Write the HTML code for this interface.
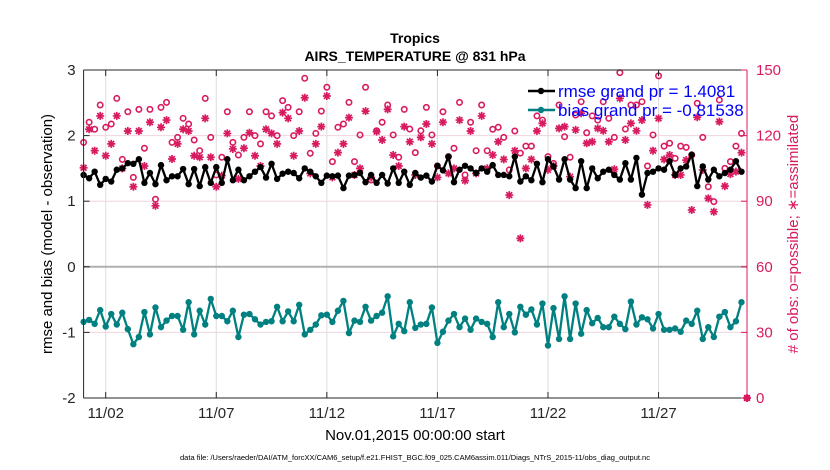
<!DOCTYPE html>
<html><head><meta charset="utf-8">
<style>
body{margin:0;background:#fff;}
svg{display:block;font-family:"Liberation Sans",sans-serif;}
</style></head>
<body>
<svg id="chart" width="830" height="470" viewBox="0 0 830 470" xmlns="http://www.w3.org/2000/svg">
<rect width="830" height="470" fill="#fff"/>
<g id="grid"></g>
<g id="series"></g>
<g id="axes"></g>
<text x="415" y="43" text-anchor="middle" font-size="14" font-weight="bold">Tropics</text>
<text x="415" y="61" text-anchor="middle" font-size="14" font-weight="bold">AIRS_TEMPERATURE @ 831 hPa</text>
<text transform="translate(52,234) rotate(-90)" text-anchor="middle" font-size="15">rmse and bias (model - observation)</text>
<text transform="translate(798,234) rotate(-90)" text-anchor="middle" font-size="15" fill="#d81b60">#  of obs: o=possible; ∗=assimilated</text>
<text x="415" y="440" text-anchor="middle" font-size="15">Nov.01,2015 00:00:00 start</text>
<text x="415" y="460" text-anchor="middle" font-size="7.5">data file: /Users/raeder/DAI/ATM_forcXX/CAM6_setup/f.e21.FHIST_BGC.f09_025.CAM6assim.011/Diags_NTrS_2015-11/obs_diag_output.nc</text>
<g>
  <line x1="528" y1="91" x2="555" y2="91" stroke="#000" stroke-width="2.5"/>
  <circle cx="541" cy="91" r="3.2" fill="#000"/>
  <text x="558" y="97" font-size="17" fill="#0000ff">rmse grand pr = 1.4081</text>
  <line x1="528" y1="110" x2="555" y2="110" stroke="#008080" stroke-width="2.5"/>
  <circle cx="541" cy="110" r="3.2" fill="#008080"/>
  <text x="558" y="116" font-size="17" fill="#0000ff">bias grand pr = -0.81538</text>
</g>
</svg>
<script>
const rmse = [1.40,1.35,1.45,1.25,1.34,1.30,1.48,1.50,1.58,1.57,1.64,1.28,1.43,1.26,1.55,1.32,1.38,1.38,1.49,1.26,1.49,1.23,1.52,1.28,1.52,1.28,1.64,1.32,1.48,1.32,1.38,1.45,1.52,1.36,1.57,1.34,1.42,1.45,1.43,1.35,1.50,1.45,1.38,
1.28,1.39,1.38,1.39,1.20,1.39,1.40,1.43,1.29,1.40,1.28,1.40,1.27,1.50,1.28,1.45,1.25,1.43,1.36,1.39,1.30,1.54,1.47,1.68,1.29,1.48,1.54,1.50,1.43,1.50,1.45,1.55,1.40,1.40,1.38,1.68,1.30,1.38,1.32,1.57,1.29,
1.64,1.53,1.33,1.64,1.33,1.20,1.61,1.20,1.50,1.35,1.45,1.48,1.40,1.33,1.58,1.33,1.66,1.10,1.43,1.45,1.50,1.48,1.61,1.40,1.50,1.53,1.71,1.23,1.53,1.33,1.48,1.38,1.43,1.48,1.61,1.45];
const bias = [-0.84,-0.81,-0.87,-0.66,-0.91,-0.72,-0.88,-0.70,-0.95,-1.18,-1.07,-0.69,-1.03,-0.62,-0.92,-0.82,-0.75,-0.75,-0.96,-0.54,-1.03,-0.67,-0.88,-0.49,-0.75,-0.75,-0.83,-0.67,-1.07,-0.73,-0.72,-0.80,-0.88,-0.84,-0.83,-0.61,-0.83,-0.68,-0.83,-0.58,-1.03,-0.96,-0.88,-0.74,-0.73,-0.84,-0.67,-0.52,-1.01,-0.82,-0.84,-0.61,-0.82,-0.75,-0.70,-0.45,-1.06,-0.87,-0.98,-0.54,
-0.93,-0.88,-0.87,-0.62,-1.16,-0.99,-0.82,-0.72,-0.92,-0.79,-0.96,-0.79,-0.84,-0.87,-1.07,-0.54,-0.92,-0.72,-1.00,-0.61,-0.73,-0.65,-0.88,-0.56,-1.20,-0.63,-1.10,-0.45,-1.10,-0.56,-1.02,-0.66,-0.86,-0.78,-0.92,-0.92,-0.76,-0.87,-0.95,-0.53,-0.88,-0.77,-0.80,-0.94,-0.72,-0.96,-0.96,-0.94,-0.99,-0.82,-0.87,-0.67,-1.10,-0.92,-1.07,-0.76,-0.69,-0.92,-0.83,-0.54];
const nPossible = [116.9,126.1,122.9,134.0,123.8,125.3,137.0,109.1,130.9,100.9,132.0,114.2,132.0,90.9,132.9,135.2,116.9,119.2,127.9,125.3,118.0,113.1,137.0,119.2,102.0,110.1,130.9,116.9,111.1,119.2,130.9,120.0,116.2,130.9,129.0,120.0,136.0,132.9,120.0,130.9,146.2,111.9,121.0,
131.2,142.1,108.1,123.8,125.3,135.2,108.1,120.3,142.1,99.7,122.2,126.1,134.0,120.3,110.1,132.0,123.0,112.2,122.2,132.9,120.3,106.1,130.9,110.4,114.2,135.2,102.0,126.1,113.1,134.0,113.1,122.9,123.8,119.2,104.3,122.1,112.0,115.2,115.2,129.0,127.1,
110.4,107.3,134.0,119.5,110.1,129.4,135.5,121.3,129.0,127.1,135.5,127.9,119.2,148.8,123.0,134.0,134.0,135.5,106.1,120.3,147.3,115.2,116.5,109.6,115.2,114.6,111.1,134.8,119.2,96.6,89.8,136.3,105.0,108.1,115.2,121.0,0];
const nAssim = [105.3,122.9,113.1,129.0,110.8,116.2,129.0,105.0,122.1,96.6,122.1,106.1,126.1,87.9,123.8,127.1,109.3,116.2,122.9,122.1,110.8,110.1,127.9,110.1,96.6,101.7,121.0,113.9,100.2,114.2,121.3,110.8,106.1,122.9,121.0,116.2,130.5,127.9,110.8,122.1,137.3,102.7,116.2,
124.1,138.1,100.9,112.2,116.2,128.2,102.0,105.0,131.2,100.9,121.8,118.0,132.0,111.1,106.1,124.1,117.2,102.0,119.2,125.3,116.2,100.9,126.1,102.7,105.0,127.1,99.4,122.1,102.7,129.0,105.0,111.1,117.2,109.1,92.8,113.1,73.0,105.0,109.1,122.1,125.6,
104.3,106.1,123.3,124.1,101.2,122.6,130.2,116.5,117.2,123.3,122.2,117.2,104.6,137.0,118.0,125.6,122.2,127.1,88.3,113.1,127.9,109.1,111.1,102.0,102.0,108.8,86.0,128.4,104.3,91.3,85.2,126.4,96.9,102.4,103.5,112.2,0];
const xTickDays = [1,6,11,16,21,26];
const xTickLabels = ["11/02","11/07","11/12","11/17","11/22","11/27"];
const yLeftTicks = [-2,-1,0,1,2,3];
const yRightTicks = [0,30,60,90,120,150];

const NS = "http://www.w3.org/2000/svg";
const L = 83.6, R = 747, T = 70, B = 398;
const xDay = d => L + d * (R - L) / 30;
const yL = v => B - (v + 2) * (B - T) / 5;
const yR = v => B - v * (B - T) / 150;
const RED = "#d81b60", TEAL = "#008080";
function mk(tag, attrs, parent){ const e=document.createElementNS(NS,tag); for(const k in attrs) e.setAttribute(k,attrs[k]); parent.appendChild(e); return e; }
const grid = document.getElementById('grid'), ser = document.getElementById('series'), ax = document.getElementById('axes');

// grid
xTickDays.forEach(d=>{ const l=mk('line',{x1:xDay(d),x2:xDay(d),y1:T,y2:B,stroke:'#dcdcdc','stroke-width':1},grid);
  
   });
yLeftTicks.forEach(v=>{ if(v===0) return; const l=mk('line',{x1:L,x2:R,y1:yL(v),y2:yL(v),stroke:'#f0d4df','stroke-width':1},grid);
  
   });
const zl = mk('line',{x1:L,x2:R,y1:yL(0),y2:yL(0),stroke:'#b0b0b0','stroke-width':2},grid);



const tx = i => xDay(i*0.25);
// obs possible circles
nPossible.forEach((v,i)=>{ if(v===null) return; const c=mk('circle',{cx:tx(i),cy:yR(v),r:2.7,fill:'none',stroke:RED,'stroke-width':1.6},ser);
  
   });
// assimilated stars
nAssim.forEach((v,i)=>{ const x=tx(i), y=yR(v), s=4, d=2.9;
  const g=mk('path',{d:`M${x-s},${y}H${x+s}M${x},${y-s}V${y+s}M${x-d},${y-d}L${x+d},${y+d}M${x-d},${y+d}L${x+d},${y-d}`,stroke:RED,'stroke-width':1.7,fill:'none'},ser);
  
   });
// rmse line
function series(arr,color,name){
  const p=mk('polyline',{points:arr.map((v,i)=>tx(i)+','+yL(v)).join(' '),fill:'none',stroke:color,'stroke-width':2.3,'stroke-linejoin':'round'},ser);
  
  
  arr.forEach((v,i)=>{ const c=mk('circle',{cx:tx(i),cy:yL(v),r:3.2,fill:color},ser);
    
     });
}
series(rmse,'#000','rmse');
series(bias,TEAL,'bias');

// axes
const fr=mk('path',{d:`M${L},${T}H${R}M${L},${B}H${R}`,stroke:'#262626','stroke-width':1,fill:'none'},ax);


const la=mk('line',{x1:L,x2:L,y1:T,y2:B,stroke:'#262626','stroke-width':1},ax);


const ra=mk('line',{x1:R,x2:R,y1:T,y2:B,stroke:RED,'stroke-width':1},ax);


yLeftTicks.forEach(v=>{ const y=yL(v);
  mk('line',{x1:L,x2:L+6,y1:y,y2:y,stroke:'#262626'},ax);
  const t=mk('text',{x:L-8,y:y+5,'text-anchor':'end','font-size':15,fill:'#262626'},ax); t.textContent=v;
  
   });
yRightTicks.forEach(v=>{ const y=yR(v);
  mk('line',{x1:R-6,x2:R,y1:y,y2:y,stroke:RED},ax);
  const t=mk('text',{x:R+9,y:y+5,'font-size':15,fill:RED},ax); t.textContent=v;
  
   });
xTickDays.forEach((d,i)=>{ const x=xDay(d);
  mk('line',{x1:x,x2:x,y1:B,y2:B-6,stroke:'#262626'},ax);
  mk('line',{x1:x,x2:x,y1:T,y2:T+6,stroke:'#262626'},ax);
  const t=mk('text',{x:x,y:B+20,'text-anchor':'middle','font-size':15,fill:'#262626'},ax); t.textContent=xTickLabels[i];
  
   });
</script>
</body></html>
